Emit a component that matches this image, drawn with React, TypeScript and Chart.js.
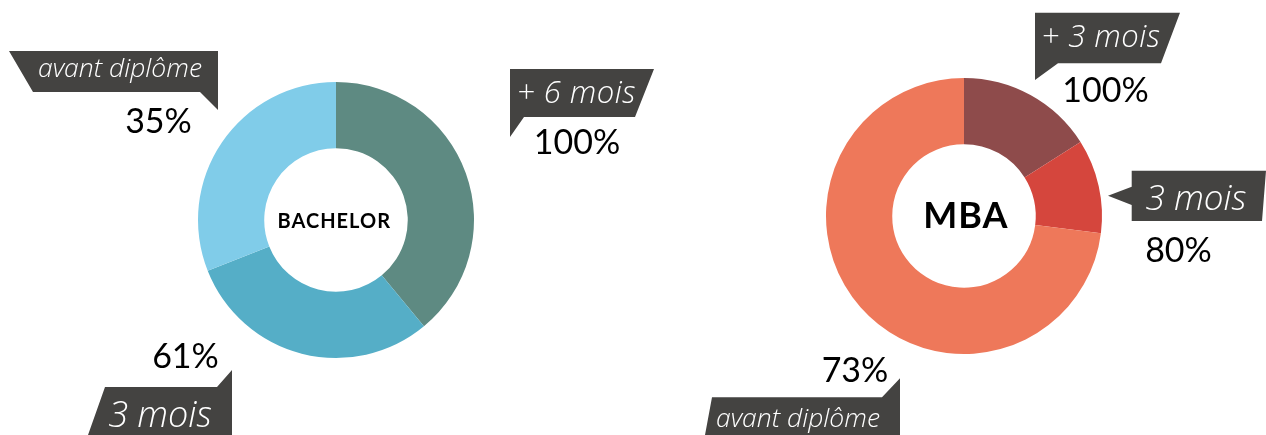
import React, { useEffect, useRef } from "react";
import { Chart, registerables } from "chart.js";

Chart.register(...registerables);

// ---- Data ----
const bachelorLabels = ["+ 6 mois", "3 mois", "avant diplôme"];
const bachelorValues = [39, 30, 31];
const bachelorColors = ["#5e8a82", "#55aec7", "#80cce9"];
const bachelorCumul = ["100%", "61%", "35%"];

const mbaLabels = ["+ 3 mois", "3 mois", "avant diplôme"];
const mbaValues = [16, 11, 73];
const mbaColors = ["#8e4b4b", "#d5463d", "#ee785a"];
const mbaCumul = ["100%", "80%", "73%"];

const GRAY = "#444341";
const LABEL_FONT = "'Open Sans', 'DejaVu Sans', sans-serif";
const PCT_FONT = "Lato, 'Open Sans', sans-serif";

function Donut(props: { labels: string[]; values: number[]; colors: string[]; left: number; top: number }) {
  const ref = useRef<HTMLCanvasElement | null>(null);
  useEffect(() => {
    if (!ref.current) return;
    const chart = new Chart(ref.current, {
      type: "doughnut",
      data: {
        labels: props.labels,
        datasets: [
          {
            data: props.values,
            backgroundColor: props.colors,
            borderWidth: 0,
            hoverOffset: 0,
          },
        ],
      },
      options: {
        responsive: false,
        animation: false,
        cutout: "52%",
        layout: { padding: 12 },
        plugins: { legend: { display: false }, tooltip: { enabled: false }, title: { display: false } },
      },
    });
    return () => chart.destroy();
  }, []);
  return (
    <canvas
      ref={ref}
      width={300}
      height={300}
      style={{ position: "absolute", left: props.left, top: props.top, width: 300, height: 300 }}
    />
  );
}

export default function App() {
  return (
    <div style={{ position: "absolute", left: 0, top: 0, width: 1266, height: 435, background: "#fff", overflow: "hidden" }}>
      <Donut labels={bachelorLabels} values={bachelorValues} colors={bachelorColors} left={186} top={70} />
      <Donut labels={mbaLabels} values={mbaValues} colors={mbaColors} left={814} top={66} />
      <svg width={1266} height={435} style={{ position: "absolute", left: 0, top: 0 }}>
        {/* Bachelor callouts */}
        <polygon points="9,51 218,51 218,110 200,92 33,92" fill={GRAY} />
        <polygon points="510,69 654,69 635,117 524,117 510,137" fill={GRAY} />
        <polygon points="105,387 217,387 232,370 232,435 88,435" fill={GRAY} />
        {/* MBA callouts */}
        <polygon points="1035,12.7 1180,12.7 1161,63.3 1058,63.3 1035,80" fill={GRAY} />
        <polygon points="1131.7,170.7 1266,170.7 1262,221 1131.7,221 1131.7,205 1108,195.7 1131.7,186.7" fill={GRAY} />
        <polygon points="712,397.3 882,397.3 900,378.3 900,435 705,435" fill={GRAY} />

        <g fill="#fff" fontFamily={LABEL_FONT} fontStyle="italic" fontWeight={300} textAnchor="middle">
          <text x={120} y={77.3} fontSize={26.5}>{bachelorLabels[2]}</text>
          <text x={576.5} y={102.7} fontSize={31} letterSpacing={0.5}>{bachelorLabels[0]}</text>
          <text x={160} y={426.7} fontSize={36}>{bachelorLabels[1]}</text>
          <text x={1101} y={46.7} fontSize={31} letterSpacing={0.5}>{mbaLabels[0]}</text>
          <text x={1196} y={210} fontSize={35}>{mbaLabels[1]}</text>
          <text x={798} y={427.3} fontSize={26.5}>{mbaLabels[2]}</text>
        </g>

        <g fill="#000" fontFamily={PCT_FONT} fontWeight={400} textAnchor="middle" fontSize={34}>
          <text x={158.5} y={132.7}>{bachelorCumul[2]}</text>
          <text x={577} y={154.3}>{bachelorCumul[0]}</text>
          <text x={185.5} y={368.3}>{bachelorCumul[1]}</text>
          <text x={1105.5} y={101.7}>{mbaCumul[0]}</text>
          <text x={1178.5} y={261.7}>{mbaCumul[1]}</text>
          <text x={855} y={382.3}>{mbaCumul[2]}</text>
        </g>

        <text x={334.3} y={228.3} fill="#000" fontFamily={PCT_FONT} fontWeight={700} fontSize={20} letterSpacing={1} textAnchor="middle">BACHELOR</text>
        <text x={965.8} y={228.3} fill="#000" fontFamily={PCT_FONT} fontWeight={700} fontSize={36} letterSpacing={1} textAnchor="middle">MBA</text>
      </svg>
    </div>
  );
}
